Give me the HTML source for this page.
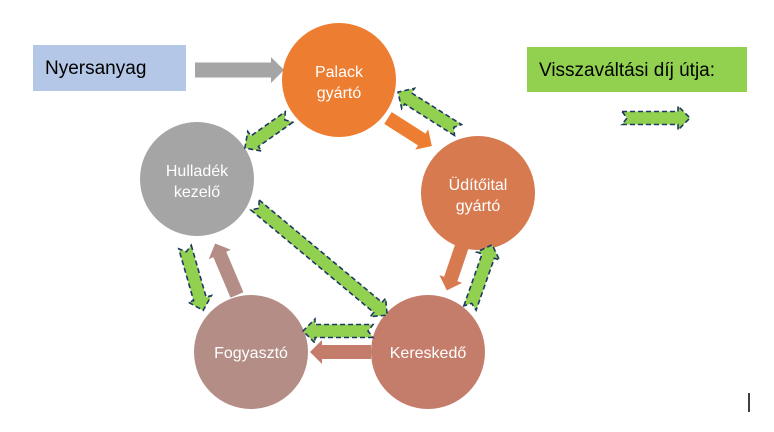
<!DOCTYPE html>
<html><head><meta charset="utf-8"><style>
body{margin:0;width:774px;height:427px;background:#fff;overflow:hidden;font-family:"Liberation Sans",sans-serif}
</style></head><body>
<svg width="774" height="427" viewBox="0 0 774 427" xmlns="http://www.w3.org/2000/svg">
<rect x="33" y="45" width="153" height="46" fill="#B4C7E7"/>
<text x="45" y="74" font-size="19" fill="#000">Nyersanyag</text>
<rect x="527" y="47" width="220" height="45" fill="#92D050"/>
<text x="539" y="76" font-size="19" fill="#000">Visszaváltási díj útja:</text>
<line x1="749" y1="393" x2="749" y2="412" stroke="#000" stroke-width="1.5"/>

<polygon transform="translate(195,70)" points="0,-7.5 76,-7.5 76,-13 89,0 76,13 76,7.5 0,7.5" fill="#A5A5A5"/>

<circle cx="339" cy="80" r="57" fill="#ED7D31"/>
<circle cx="478" cy="193" r="57" fill="#D77A50"/>
<circle cx="197" cy="179" r="57" fill="#A5A5A5"/>
<circle cx="251" cy="352" r="57" fill="#B48E86"/>
<circle cx="428" cy="352" r="57" fill="#C47D6B"/>

<g font-size="16" fill="#fff" text-anchor="middle">
<text x="339" y="77">Palack</text><text x="339" y="98">gyártó</text>
<text x="478" y="190">Üdítőital</text><text x="478" y="211">gyártó</text>
<text x="197" y="176">Hulladék</text><text x="197" y="197">kezelő</text>
<text x="251" y="358">Fogyasztó</text>
<text x="428" y="358">Kereskedő</text>
</g>

<polygon transform="translate(388,118) rotate(32.5)" points="0,-7 40,-7 40,-12 52,0 40,12 40,7 0,7" fill="#ED7D31"/>
<polygon transform="translate(463,243) rotate(108.8)" points="0,-7 38,-7 38,-12 50,0 38,12 38,7 0,7" fill="#D77A50"/>
<polygon transform="translate(371,352) rotate(180)" points="0,-7 49,-7 49,-12 61,0 49,12 49,7 0,7" fill="#C47D6B"/>
<polygon transform="translate(237,295) rotate(247)" points="0,-7 44,-7 44,-12 56,0 44,12 44,7 0,7" fill="#B48E86"/>

<g fill="#92D050" stroke="#1F3864" stroke-width="1.6" stroke-dasharray="5,3">
<polygon transform="translate(289,117) rotate(144.8)" points="0,-6.5 42,-6.5 42,-12 54,0 42,12 42,6.5 0,6.5 5,0"/>
<polygon transform="translate(458,130) rotate(212.3)" points="0,-6.5 59,-6.5 59,-12 71,0 59,12 59,6.5 0,6.5 5,0"/>
<polygon transform="translate(470,308) rotate(-70.7)" points="0,-6.5 55,-6.5 55,-12 67,0 55,12 55,6.5 0,6.5 5,0"/>
<polygon transform="translate(255,205) rotate(39.8)" points="0,-6.5 160,-6.5 160,-12 172,0 160,12 160,6.5 0,6.5 5,0"/>
<polygon transform="translate(373,331) rotate(180)" points="0,-6.5 58,-6.5 58,-12 70,0 58,12 58,6.5 0,6.5 5,0"/>
<polygon transform="translate(185,247) rotate(74)" points="0,-6.5 54,-6.5 54,-12 66,0 54,12 54,6.5 0,6.5 5,0"/>
<polygon transform="translate(622,118)" points="0,-6.5 56,-6.5 56,-12 68,0 56,12 56,6.5 0,6.5 5,0"/>
</g>
</svg>
</body></html>
